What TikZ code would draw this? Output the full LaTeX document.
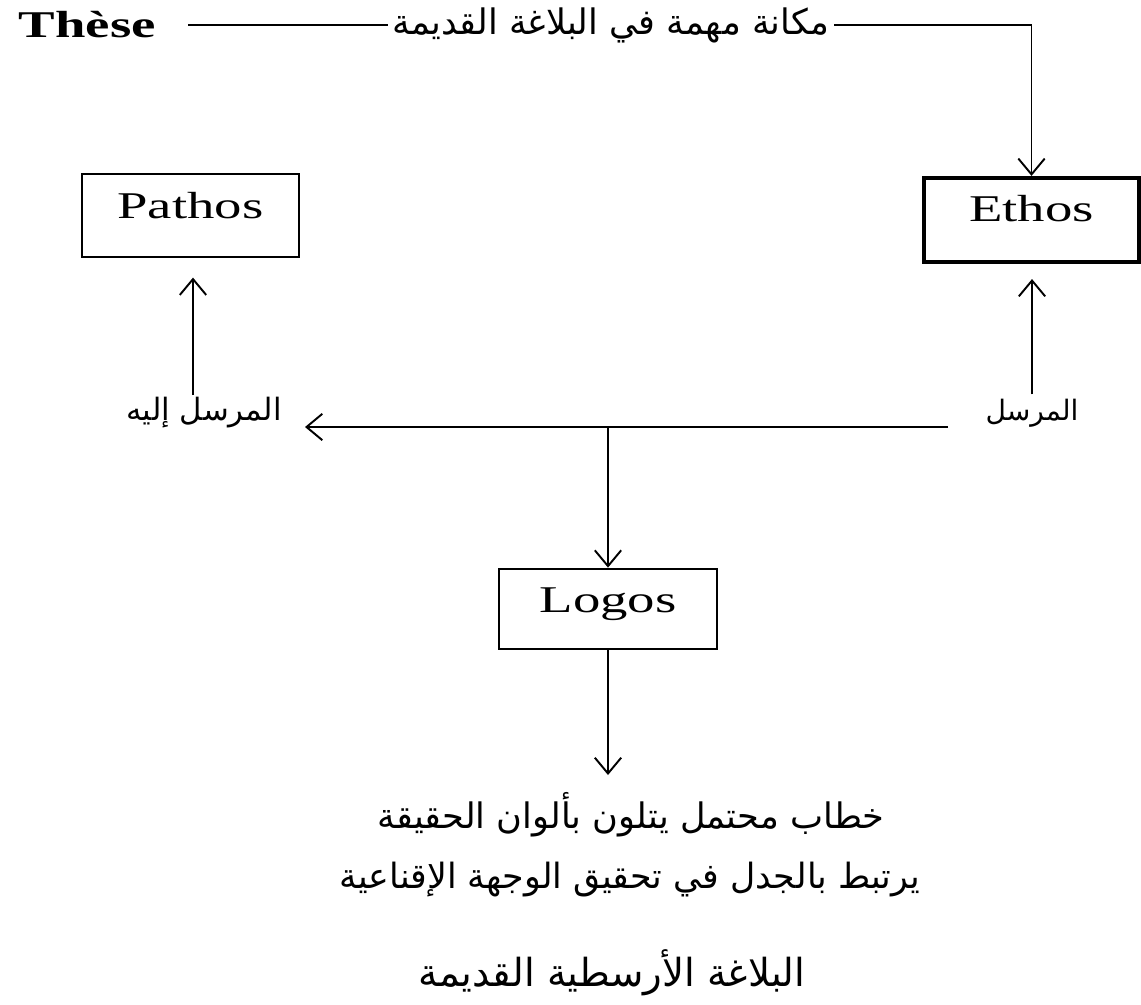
\documentclass[tikz,border=0pt]{standalone}
\usepackage{fontspec}
\setmainfont{Liberation Serif}[FakeStretch=1.45]
\newfontfamily\arabicfont[Script=Arabic]{DejaVu Sans}
\TeXXeTstate=1
\usetikzlibrary{arrows.meta}
\begin{document}
\begin{tikzpicture}[x=0.02cm,y=-0.02cm,
  line width=1.1pt,
  arr/.style={-{Straight Barb[length=9pt,width=15pt,line width=1.1pt]}},
  fontsize/.style={font=\fontsize{21.5}{24}\selectfont},
  boxnode/.style={draw,line width=1.1pt,fontsize,inner xsep=0pt,inner ysep=0pt,
     minimum width=124pt,text height=25pt,text depth=22pt},
  ar/.style={font=\fontsize{#1}{#1}\selectfont\arabicfont,inner sep=2pt},
  ar/.default=20]
\useasboundingbox (0,0) rectangle (1141,1004);
% nodes
\node[font=\fontsize{21.5}{24}\selectfont\bfseries,anchor=west,inner sep=0pt] (thesis) at (18,25) {Thèse};
\node[ar=20] (toptext) at (611,25) {\beginR مكانة مهمة في البلاغة القديمة\endR};
\node[boxnode] (pathos) at (190.5,215.5) {Pathos};
\node[boxnode,line width=2.2pt,minimum width=122pt,text depth=23pt] (ethos) at (1031.5,220) {Ethos};
\node[boxnode,text depth=21pt] (logos) at (608,609) {Logos};
\node[ar=17.5] (receiver) at (204,413) {\beginR المرسل إليه\endR};
\node[ar=16] (sender) at (1032,413) {\beginR المرسل\endR};
\node[ar=20] (desc1) at (631,815) {\beginR خطاب محتمل يتلون بألوان الحقيقة\endR};
\node[ar=19.8] (desc2) at (630,880) {\beginR يرتبط بالجدل في تحقيق الوجهة الإقناعية\endR};
\node[ar=22] (title) at (612,973) {\beginR البلاغة الأرسطية القديمة\endR};
\coordinate (hs) at (948,427);
\coordinate (he) at (305,427);
\coordinate (j) at (608,427);
\coordinate (lt) at (608,775);
% connectors
\draw[shorten <=18pt] (thesis.east) -- (toptext.west);
\draw[arr] (toptext.east) -| (ethos.north);
\draw[arr,shorten >=8.5pt] (sender.north) -- (ethos.south -| sender.north);
\draw[arr,shorten >=11.3pt] (193,395) -- (pathos.south -| 193,395);
\draw[arr] (hs) -- (he);
\draw[arr] (j) -- (logos.north);
\draw[arr] (logos.south) -- (lt);
\end{tikzpicture}
\end{document}
